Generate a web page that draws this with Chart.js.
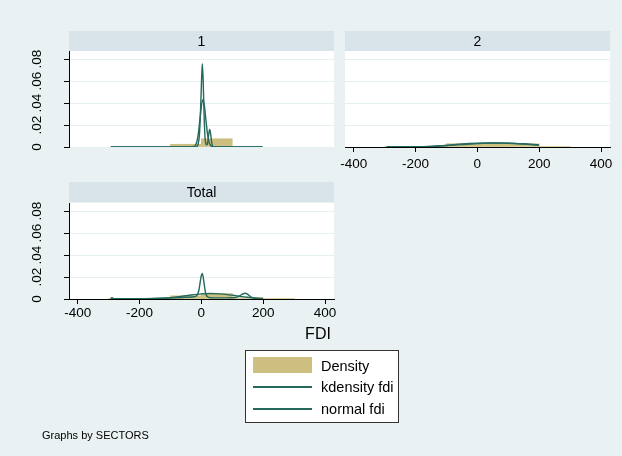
<!DOCTYPE html>
<html>
<head>
<meta charset="utf-8">
<script src="https://cdn.jsdelivr.net/npm/chart.js@4.4.1/dist/chart.umd.min.js"></script>
<style>
  html, body { margin: 0; padding: 0; background: #eaf1f3; }
  #wrap { position: relative; width: 622px; height: 456px; overflow: hidden; background: #eaf1f3;
          font-family: "Liberation Sans", Arial, sans-serif; color: #000; }
  #wrap canvas { position: absolute; left: 0; top: 0; }
  .xtitle { position: absolute; left: 280px; width: 76px; top: 325px; text-align: center; font-size: 16px; line-height: 18px; }
  .legend { position: absolute; left: 245px; top: 350px; width: 152px; height: 71px; background: #fff; border: 1px solid #333; }
  .legend .sw { position: absolute; left: 7px; top: 6px; width: 59px; height: 16px; }
  .legend .ln { position: absolute; left: 7px; width: 59px; height: 1.5px; }
  .legend .tx { position: absolute; left: 75px; font-size: 14.5px; line-height: 16px; white-space: nowrap; }
  .note { position: absolute; left: 42px; top: 429px; font-size: 11px; line-height: 13px; }
</style>
</head>
<body>
<div id="wrap">
  <canvas id="p1" width="622" height="456"></canvas>
  <canvas id="p2" width="622" height="456"></canvas>
  <canvas id="p3" width="622" height="456"></canvas>
  <div class="xtitle">FDI</div>
  <div class="legend">
    <div class="sw" id="swBar"></div>
    <div class="tx" style="top:7px">Density</div>
    <div class="ln" id="swK" style="top:35px"></div>
    <div class="tx" style="top:28px">kdensity fdi</div>
    <div class="ln" id="swN" style="top:57px"></div>
    <div class="tx" style="top:50px">normal fdi</div>
  </div>
  <div class="note">Graphs by SECTORS</div>
</div>
<script>
// ---- data -------------------------------------------------------------
// histogram bins of FDI (width 100), given by their centres
const binCenters = [-250, -150, -50, 50, 150, 250];
const histSector1 = [null, null, 0.0025, 0.0075, null, null];
const histSector2 = [0.0004, 0.0004, 0.0030, 0.0030, 0.0028, 0.0004];
const histTotal   = [0.0003, 0.0003, 0.0029, 0.0050, 0.0012, 0.0003];

// kernel density and normal density curves, sector 1
const kdenX1 = [-293, -40, -20, -14, -10, -6, -3, 0, 3, 6, 9, 12, 15, 18, 21, 24, 27, 30, 33, 36, 40, 60, 198];
const kdenY1 = [0, 0, 0, 0.0005, 0.003, 0.012, 0.030, 0.055, 0.076, 0.060, 0.028, 0.008, 0.003, 0.002, 0.005, 0.012, 0.016, 0.012, 0.005, 0.001, 0, 0, 0];
const normX1 = [-293, -40, -25, -20, -15, -10, -5, 0, 5, 10, 15, 20, 25, 30, 35, 50, 198];
const normY1 = [0, 0, 0.0005, 0.0013, 0.0043, 0.0117, 0.0241, 0.0372, 0.0430, 0.0372, 0.0241, 0.0117, 0.0043, 0.0013, 0.0003, 0, 0];

// sector 2
const kdenX2 = [-293, -260, -230, -200, -150, -100, -50, 0, 50, 100, 150, 199];
const kdenY2 = [0.0003, 0.0003, 0.0002, 0.0002, 0.0005, 0.0014, 0.0027, 0.0034, 0.0036, 0.0035, 0.0029, 0.0020];
const normX2 = [-293, -250, -200, -150, -100, -50, 0, 50, 100, 150, 199];
const normY2 = [0, 0.0001, 0.0002, 0.0006, 0.0013, 0.0022, 0.0031, 0.0036, 0.0034, 0.0026, 0.0016];

// all sectors
const kdenX3 = [-293, -290, -287, -283, -270, -230, -200, -150, -100, -60, -30, -15, -8, -4, 0, 3, 6, 10, 14, 20, 30, 50, 80, 110, 125, 135, 142, 150, 160, 175, 199];
const kdenY3 = [0.0006, 0.0012, 0.0010, 0.0003, 0.0002, 0.0002, 0.0003, 0.0005, 0.0009, 0.0014, 0.0018, 0.0030, 0.0080, 0.0150, 0.0215, 0.0234, 0.0200, 0.0120, 0.0050, 0.0020, 0.0012, 0.0010, 0.0010, 0.0014, 0.0030, 0.0048, 0.0052, 0.0042, 0.0020, 0.0006, 0.0003];
const normX3 = [-293, -250, -200, -150, -100, -50, 0, 30, 60, 100, 150, 199];
const normY3 = [0, 0.00003, 0.0001, 0.0004, 0.0013, 0.0030, 0.0047, 0.0050, 0.0047, 0.0034, 0.0016, 0.0005];

// axes
const xTicks = [-400, -200, 0, 200, 400];
const xTickLabels = ['-400', '-200', '0', '200', '400'];
const yTicks = [0, 0.02, 0.04, 0.06, 0.08];
const yTickLabels = ['0', '.02', '.04', '.06', '.08'];
const panelTitles = ['1', '2', 'Total'];

// ---- styling ------------------------------------------------------------
const FONT = '"Liberation Sans", Arial, sans-serif';
const BAR_COLOR = '#cdbf80';
const LINE_COLOR = '#25695d';
const GRID_COLOR = '#e6eff1';
const STRIP_COLOR = '#d8e4ea';
const X_MIN = -428, X_MAX = 429, Y_MIN = 0, Y_MAX = 0.0875;
const X_AXIS_H = 30;

document.getElementById('swBar').style.background = BAR_COLOR;
document.getElementById('swK').style.background = LINE_COLOR;
document.getElementById('swN').style.background = LINE_COLOR;

const toPoints = (xs, ys) => xs.map((x, i) => ({ x: x, y: ys[i] }));

// white plot region plus the title strip above it
const panelFrame = {
  id: 'panelFrame',
  beforeDraw(chart, args, o) {
    const { ctx, chartArea: a } = chart;
    ctx.save();
    ctx.fillStyle = '#ffffff';
    ctx.fillRect(a.left, a.top, a.right - a.left, a.bottom - a.top);
    ctx.fillStyle = STRIP_COLOR;
    ctx.fillRect(a.left, o.stripTop, a.right - a.left, o.stripBottom - o.stripTop);
    ctx.fillStyle = '#000';
    ctx.font = '14px ' + FONT;
    ctx.textAlign = 'center';
    ctx.textBaseline = 'middle';
    ctx.fillText(o.title, (a.left + a.right) / 2, (o.stripTop + o.stripBottom) / 2 + 1);
    ctx.restore();
  },
  // vertical tick labels on the density axis
  afterDraw(chart, args, o) {
    if (!o.yLabels) return;
    const { ctx } = chart;
    const ys = chart.scales.y;
    ctx.save();
    ctx.fillStyle = '#000';
    ctx.font = '13.5px ' + FONT;
    ctx.textAlign = 'center';
    ctx.textBaseline = 'middle';
    yTicks.forEach((v, i) => {
      const py = ys.getPixelForValue(v);
      ctx.save();
      ctx.translate(o.yLabelX, py);
      ctx.rotate(-Math.PI / 2);
      ctx.fillText(yTickLabels[i], 0, 0);
      ctx.restore();
    });
    ctx.restore();
  }
};

function makePanel(canvasId, area, strip, title, hist, kx, ky, nx, ny, showX, showY, labelPad) {
  const lineSet = (xs, ys, ord) => ({
    type: 'line', data: toPoints(xs, ys), borderColor: LINE_COLOR, borderWidth: 1.4,
    pointRadius: 0, fill: false, cubicInterpolationMode: 'monotone', order: ord
  });
  const axisH = showX ? X_AXIS_H : 0;
  return new Chart(document.getElementById(canvasId), {
    type: 'line',
    data: {
      datasets: [
        lineSet(kx, ky, 1),
        lineSet(nx, ny, 2),
        {
          type: 'bar', data: toPoints(binCenters, hist), backgroundColor: BAR_COLOR,
          borderWidth: 0, barPercentage: 1, categoryPercentage: 1, order: 3
        }
      ]
    },
    plugins: [panelFrame],
    options: {
      responsive: false, animation: false, events: [],
      layout: { padding: { left: area.left, top: area.top, right: 622 - area.right, bottom: 456 - area.bottom - axisH } },
      plugins: {
        legend: { display: false }, tooltip: { enabled: false }, title: { display: false },
        panelFrame: { stripTop: strip[0], stripBottom: strip[1], title: title, yLabels: showY, yLabelX: 37 }
      },
      scales: {
        x: {
          type: 'linear', min: X_MIN, max: X_MAX, offset: false,
          afterBuildTicks: s => { s.ticks = xTicks.map(v => ({ value: v })); },
          afterFit: s => { s.height = axisH; },
          ticks: {
            display: showX, autoSkip: false, maxRotation: 0, minRotation: 0, padding: labelPad,
            color: '#000', font: { family: FONT, size: 13.5 },
            callback: (v) => xTickLabels[xTicks.indexOf(v)]
          },
          grid: { display: showX, drawOnChartArea: false, offset: false, tickLength: 5, tickColor: '#000', tickWidth: 1 },
          border: { display: showX, color: '#000', width: 1 }
        },
        y: {
          type: 'linear', min: Y_MIN, max: Y_MAX,
          afterBuildTicks: s => { s.ticks = yTicks.map(v => ({ value: v })); },
          afterFit: s => { s.width = 0; },
          ticks: { display: false },
          grid: { color: GRID_COLOR, lineWidth: 1, drawTicks: showY, tickLength: 5, tickColor: '#000', tickWidth: 1 },
          border: { display: showY, color: '#000', width: 1 }
        }
      }
    }
  });
}

makePanel('p1', { left: 69, top: 51, right: 334, bottom: 147 }, [31, 51], panelTitles[0],
  histSector1, kdenX1, kdenY1, normX1, normY1, false, true, 4);
makePanel('p2', { left: 345, top: 51, right: 610, bottom: 147 }, [31, 51], panelTitles[1],
  histSector2, kdenX2, kdenY2, normX2, normY2, true, false, 4);
makePanel('p3', { left: 69, top: 203, right: 334, bottom: 299 }, [182, 202], panelTitles[2],
  histTotal, kdenX3, kdenY3, normX3, normY3, true, true, 1);
</script>
</body>
</html>
